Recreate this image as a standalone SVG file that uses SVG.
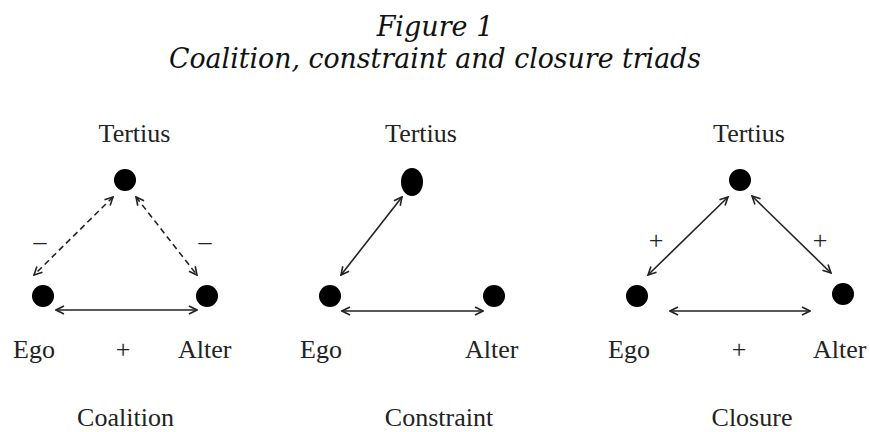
<svg xmlns="http://www.w3.org/2000/svg" width="870" height="432" viewBox="0 0 870 432">
<style>
.title{font-family:"DejaVu Serif","Liberation Serif",serif;font-style:italic;font-size:27px;fill:#111;text-anchor:middle}
.lbl{font-family:"Liberation Serif","Times New Roman",serif;font-size:26px;fill:#222}
.mid{text-anchor:middle}
.dot{fill:#000}
.edge{stroke:#222;stroke-width:1.6;fill:none;marker-start:url(#ah);marker-end:url(#ah)}
.dash{stroke-dasharray:6 4}
</style>
<defs>
<marker id="ah" viewBox="0 0 10 10" refX="9" refY="5" markerWidth="10" markerHeight="10" markerUnits="userSpaceOnUse" orient="auto-start-reverse">
<path d="M1,1 L9,5 L1,9" fill="none" stroke="#222" stroke-width="1.6"/>
</marker>
</defs>
<rect width="870" height="432" fill="#fff"/>
<g id="title">
<text class="title" x="435" y="36">Figure 1</text>
<text class="title" x="435" y="68" textLength="532" lengthAdjust="spacingAndGlyphs">Coalition, constraint and closure triads</text>
</g>
<g id="connectors">
<line class="edge dash" x1="113" y1="197" x2="34" y2="275"/>
<line class="edge dash" x1="136" y1="197" x2="197" y2="275"/>
<line class="edge" x1="56" y1="310" x2="197" y2="310"/>
<line class="edge" x1="402" y1="197" x2="341" y2="275"/>
<line class="edge" x1="342" y1="311" x2="483" y2="311"/>
<line class="edge" x1="728" y1="197" x2="648" y2="275"/>
<line class="edge" x1="752" y1="196" x2="831" y2="273"/>
<line class="edge" x1="670" y1="311" x2="810" y2="311"/>
</g>
<g id="coalition">
<g id="coalition-tertius"><circle class="dot" cx="125" cy="180" r="11"/><text class="lbl mid" x="134.5" y="142">Tertius</text></g>
<g id="coalition-ego"><circle class="dot" cx="43" cy="296" r="11"/><text class="lbl" x="13" y="358">Ego</text></g>
<g id="coalition-alter"><circle class="dot" cx="207" cy="296" r="11"/><text class="lbl" x="178" y="358">Alter</text></g>
<text class="lbl mid" x="40" y="250">–</text>
<text class="lbl mid" x="205" y="250">–</text>
<text class="lbl mid" x="123" y="358">+</text>
<text class="lbl mid" x="125.5" y="426">Coalition</text>
</g>
<g id="constraint">
<g id="constraint-tertius"><ellipse class="dot" cx="412" cy="182" rx="11" ry="14"/><text class="lbl mid" x="421" y="142">Tertius</text></g>
<g id="constraint-ego"><circle class="dot" cx="330" cy="296" r="11"/><text class="lbl" x="300" y="358">Ego</text></g>
<g id="constraint-alter"><circle class="dot" cx="494" cy="296" r="11"/><text class="lbl" x="465" y="358">Alter</text></g>
<text class="lbl mid" x="439" y="426">Constraint</text>
</g>
<g id="closure">
<g id="closure-tertius"><circle class="dot" cx="740" cy="180" r="11"/><text class="lbl mid" x="749" y="142">Tertius</text></g>
<g id="closure-ego"><circle class="dot" cx="637" cy="296" r="11"/><text class="lbl" x="608" y="358">Ego</text></g>
<g id="closure-alter"><circle class="dot" cx="843" cy="294" r="11"/><text class="lbl" x="813" y="358">Alter</text></g>
<text class="lbl mid" x="656" y="249">+</text>
<text class="lbl mid" x="820" y="249">+</text>
<text class="lbl mid" x="739" y="358">+</text>
<text class="lbl mid" x="752" y="426">Closure</text>
</g>
</svg>
